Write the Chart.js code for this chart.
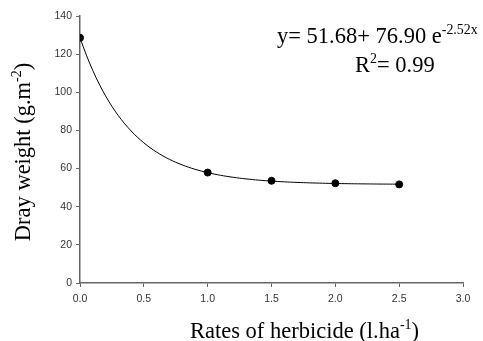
<!DOCTYPE html>
<html>
<head>
<meta charset="utf-8">
<script src="https://cdn.jsdelivr.net/npm/chart.js@4.4.1/dist/chart.umd.min.js"></script>
<style>
  html, body { margin: 0; padding: 0; background: #fff; }
  #wrap { width: 483px; height: 341px; }
</style>
</head>
<body>
<div id="wrap"><canvas id="chart"></canvas></div>
<script>
// herbicide rate (l/ha) vs. dry weight (g/m2)
const rates = [0, 1.0, 1.5, 2.0, 2.5];
const dryWeight = [128.6, 57.9, 53.6, 52.3, 51.7];

// fitted model y = a + b * exp(c * x)
const fitA = 51.68;
const fitB = 76.90;
const fitC = -2.52;
const rSquared = 0.99;

const xTicks = [0, 0.5, 1.0, 1.5, 2.0, 2.5, 3.0];
const yTicks = [0, 20, 40, 60, 80, 100, 120, 140];

// smooth curve over the measured range
const fitLine = [];
for (let i = 0; i <= 100; i++) {
    const x = rates[rates.length - 1] * i / 100;
    fitLine.push({ x: x, y: fitA + fitB * Math.exp(fitC * x) });
}

const points = rates.map((r, i) => ({ x: r, y: dryWeight[i] }));

const serif = "'Liberation Serif', 'Times New Roman', serif";
const sans = "'Liberation Sans', Arial, sans-serif";
const titleSize = 22.5;

// draws text pieces one after another, raising the ones marked sup
function drawRich(ctx, parts, x, y, size) {
    let cx = x;
    parts.forEach((p) => {
        const s = p.sup ? size * 0.62 : size;
        ctx.font = s + "px " + serif;
        ctx.fillText(p.t, cx, p.sup ? y - size * 0.42 : y);
        cx += ctx.measureText(p.t).width;
    });
}

function richWidth(ctx, parts, size) {
    let w = 0;
    parts.forEach((p) => {
        ctx.font = (p.sup ? size * 0.62 : size) + "px " + serif;
        w += ctx.measureText(p.t).width;
    });
    return w;
}

const labelsPlugin = {
    id: "labels",
    afterDraw(chart) {
        const ctx = chart.ctx;
        ctx.save();
        ctx.fillStyle = "#000";
        ctx.textAlign = "left";
        ctx.textBaseline = "alphabetic";

        // x axis title
        const xt = [{ t: "Rates of herbicide (l.ha" }, { t: "-1", sup: true }, { t: ")" }];
        drawRich(ctx, xt, 190, 338, titleSize);

        // y axis title, rotated
        const yt = [{ t: "Dray weight (g.m" }, { t: "-2", sup: true }, { t: ")" }];
        const w = richWidth(ctx, yt, titleSize);
        ctx.save();
        ctx.translate(30, 152);
        ctx.rotate(-Math.PI / 2);
        drawRich(ctx, yt, -w / 2, 0, titleSize);
        ctx.restore();

        // equation
        const eq = [{ t: "y= " + fitA.toFixed(2) + "+ " + fitB.toFixed(2) + " e" },
                    { t: fitC.toFixed(2) + "x", sup: true }];
        drawRich(ctx, eq, 277, 43, titleSize);
        const r2 = [{ t: "R" }, { t: "2", sup: true }, { t: "= " + rSquared.toFixed(2) }];
        drawRich(ctx, r2, 355, 72, titleSize);

        ctx.restore();
    }
};

new Chart(document.getElementById("chart"), {
    type: "scatter",
    data: {
        datasets: [
            {
                label: "fit",
                data: fitLine,
                showLine: true,
                borderColor: "#000",
                borderWidth: 1,
                pointRadius: 0,
                tension: 0,
            },
            {
                label: "observed",
                data: points,
                backgroundColor: "#000",
                borderColor: "#000",
                pointRadius: 3.5,
            },
        ],
    },
    options: {
        responsive: true,
        maintainAspectRatio: false,
        animation: false,
        layout: { padding: { top: 16, right: 20, left: 0, bottom: 0 } },
        plugins: {
            legend: { display: false },
            tooltip: { enabled: false },
        },
        scales: {
            x: {
                type: "linear",
                min: 0,
                max: 3,
                afterBuildTicks: (scale) => { scale.ticks = xTicks.map((v) => ({ value: v })); },
                afterFit: (scale) => { scale.height = 58; },
                border: { display: true, color: "#666", width: 1.5 },
                grid: { drawOnChartArea: false, drawTicks: true, tickLength: 4, color: "#666", lineWidth: 1 },
                ticks: {
                    padding: 6,
                    color: "#333",
                    font: { family: sans, size: 10.5 },
                    maxRotation: 0,
                    callback: (v) => Number(v).toFixed(1),
                },
            },
            y: {
                type: "linear",
                min: 0,
                max: 140,
                afterBuildTicks: (scale) => { scale.ticks = yTicks.map((v) => ({ value: v })); },
                afterFit: (scale) => { scale.width = 80; },
                border: { display: true, color: "#666", width: 1.5 },
                grid: { drawOnChartArea: false, drawTicks: true, tickLength: 4, color: "#666", lineWidth: 1 },
                ticks: {
                    padding: 4,
                    color: "#333",
                    font: { family: sans, size: 10.5 },
                },
            },
        },
    },
    plugins: [labelsPlugin],
});
</script>
</body>
</html>
